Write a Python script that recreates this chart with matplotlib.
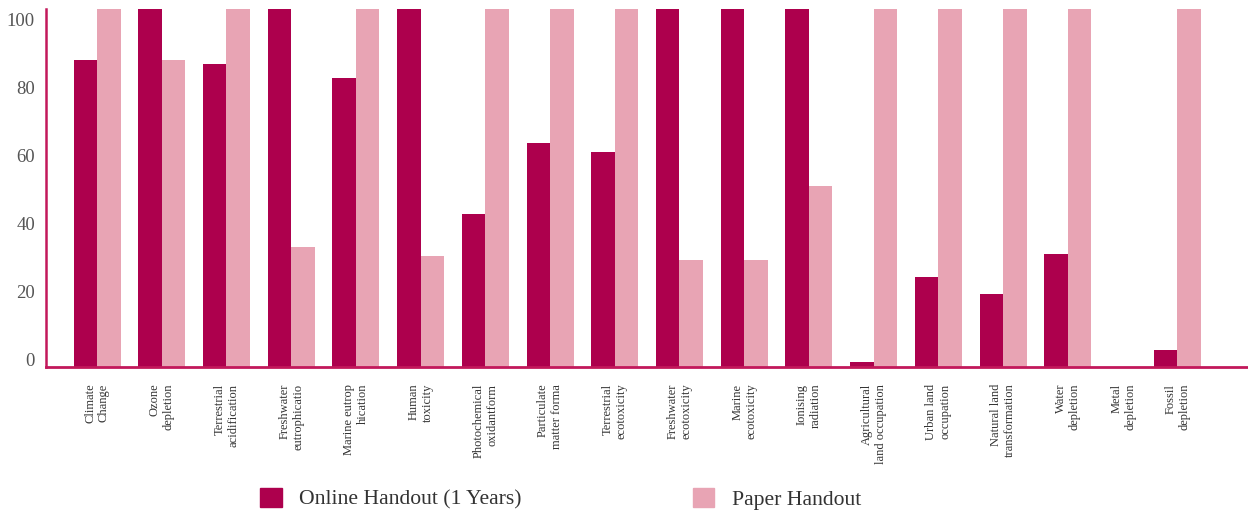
import numpy as np
import matplotlib
matplotlib.use('Agg')
import matplotlib.pyplot as plt
from matplotlib.patches import Patch
import matplotlib.transforms as mtransforms

plt.rcParams['font.family'] = ['Liberation Serif', 'DejaVu Serif']

categories = ['Climate\nChange', 'Ozone\ndepletion', 'Terrestrial\nacidification',
              'Freshwater\neutrophicatio', 'Marine eutrop\nhication', 'Human\ntoxicity',
              'Photochemical\noxidantform', 'Particulate\nmatter forma', 'Terrestrial\necotoxicity',
              'Freshwater\necotoxicity', 'Marine\necotoxicity', 'Ionising\nradiation',
              'Agricultural\nland occupation', 'Urban land\noccupation', 'Natural land\ntransformation',
              'Water\ndepletion', 'Metal\ndepletion', 'Fossil\ndepletion']

online = [90, 110, 89, 110, 84.7, 110, 45, 65.6, 63, 110, 110, 110, 1.5, 26.5, 21.5, 33.2, 0, 5]
paper = [110, 90, 110, 35.3, 110, 32.6, 110, 110, 110, 31.5, 31.5, 53.2, 110, 110, 110, 110, 0, 110]

yticks = [0, 20, 40, 60, 80, 100]

DARK = '#ad004d'
LIGHT = '#e8a4b4'
AXIS = '#c2185b'

fig = plt.figure(figsize=(12.48, 5.14), dpi=100)
ax = fig.add_axes([0.0369, 0.286, 0.9623, 0.6965])

# the last two groups sit a little closer together in the original
step = np.ones(len(categories))
step[0] = 0
step[16] = 0.86
step[17] = 0.83
x = np.cumsum(step)
w = 0.363
ax.bar(x - w / 2, online, w, color=DARK, label='Online Handout (1 Years)')
ax.bar(x + w / 2, paper, w, color=LIGHT, label='Paper Handout')

ax.set_xlim(-0.788, 17.77)
ax.set_ylim(0, 105)
ax.set_yticks(yticks)
ax.set_xticks(x)
ax.set_xticklabels(categories, rotation=90, fontsize=9, color='#333333',
                   va='top', ha='center', multialignment='right')
ax.tick_params(axis='both', length=0)
ax.tick_params(axis='y', labelsize=13.5, labelcolor='#555555', pad=8)
ax.tick_params(axis='x', pad=12)

# y labels sit a bit above their tick
off = mtransforms.ScaledTranslation(0, 7 / 100, fig.dpi_scale_trans)
for lab in ax.get_yticklabels():
    lab.set_transform(lab.get_transform() + off)

for s in ['top', 'right']:
    ax.spines[s].set_visible(False)
ax.spines['left'].set_color(AXIS)
ax.spines['left'].set_linewidth(1.8)
ax.spines['bottom'].set_color(AXIS)
ax.spines['bottom'].set_linewidth(2)

handles = [Patch(color=DARK), Patch(color=LIGHT)]
fig.legend(handles, ['Online Handout (1 Years)', 'Paper Handout'],
           loc='center', bbox_to_anchor=(0.449, 0.03), ncol=2, frameon=False,
           fontsize=15.6, handlelength=1.0, handleheight=1.0, handletextpad=0.8,
           columnspacing=7.9, labelcolor='#333333')

fig.savefig('out.png', dpi=100)
